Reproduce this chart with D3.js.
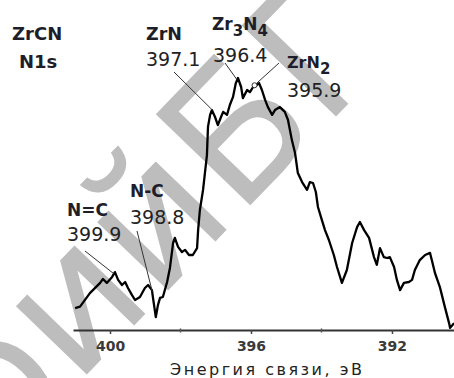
<!DOCTYPE html>
<html>
<head>
<meta charset="utf-8">
<script src="https://cdn.jsdelivr.net/npm/d3@7"></script>
<style>
  html, body { margin: 0; padding: 0; background: #fff; }
  svg { display: block; }
</style>
</head>
<body>
<svg id="chart" width="454" height="378"></svg>
<script>
// N1s XPS spectrum of ZrCN: binding energy (eV) and intensity (arb. units)
const energy = [
  400.99, 400.85, 400.57, 400.28, 400.20, 400.09, 399.94, 399.86, 399.77, 399.66,
  399.57, 399.49, 399.38, 399.29, 399.15, 399.01, 398.92, 398.81, 398.78, 398.70,
  398.64, 398.58, 398.50, 398.38, 398.30, 398.21, 398.16, 398.07, 397.96, 397.87,
  397.76, 397.65, 397.53, 397.50, 397.45, 397.36, 397.25, 397.22, 397.16, 397.11,
  397.02, 396.94, 396.85, 396.79, 396.68, 396.60, 396.51, 396.43, 396.37, 396.28,
  396.23, 396.11, 396.03, 395.94, 395.83, 395.77, 395.69, 395.60, 395.52, 395.40,
  395.32, 395.18, 395.04, 394.95, 394.84, 394.75, 394.67, 394.55, 394.41, 394.33,
  394.24, 394.16, 394.10, 393.99, 393.90, 393.79, 393.65, 393.56, 393.42, 393.28,
  393.13, 392.99, 392.91, 392.79, 392.65, 392.51, 392.43, 392.34, 392.23, 392.14,
  392.06, 391.94, 391.86, 391.77, 391.66, 391.52, 391.43, 391.35, 391.21, 391.06,
  390.92, 390.87, 390.78, 390.64, 390.50, 390.38, 390.35, 390.24
];
const intensity = [
   7.3,  7.8, 12.3, 15.7, 17.0, 15.7, 17.7, 19.3, 16.7, 15.0,
  16.0, 14.0, 11.7, 10.0, 11.0, 14.0, 15.0, 13.3, 10.7,  4.3,
   8.3, 10.7, 11.0, 16.0, 20.7, 29.0, 30.7, 27.7, 26.0, 26.7,
  25.0, 25.0, 27.3, 33.3, 40.0, 46.7, 58.3, 67.7, 71.7, 73.3,
  71.0, 68.3, 71.0, 72.7, 71.7, 75.0, 77.7, 82.3, 84.0, 81.0,
  77.3, 80.0, 79.3, 81.0, 81.7, 82.3, 80.0, 76.7, 74.3, 71.7,
  73.3, 74.3, 72.7, 70.0, 63.3, 59.0, 52.3, 49.3, 46.7, 49.3,
  49.0, 46.0, 41.0, 36.7, 33.3, 30.0, 25.0, 21.0, 15.7, 20.0,
  29.0, 34.3, 36.0, 33.3, 30.7, 24.3, 21.7, 27.3, 24.3, 24.0,
  24.3, 21.0, 16.7, 13.3, 15.7, 16.0, 16.7, 20.0, 23.3, 25.0,
  25.7, 23.3, 19.0, 14.3,  7.7,  2.3,  0.7,  2.3
];

// Axis ticks
const majorTicks = [400, 396, 392];
const minorTicks = [398, 394];

// Component assignments (name parts: [text, isSubscript]) and their energies
const peakNames = [
  [["N=C", false]],
  [["N-C", false]],
  [["ZrN", false]],
  [["Zr", false], ["3", true], ["N", false], ["4", true]],
  [["ZrN", false], ["2", true]]
];
const peakEnergy = [399.9, 398.8, 397.1, 396.4, 395.9];

const svg = d3.select("#chart");

const x = d3.scaleLinear().domain([401.05, 390.24]).range([73, 454]);
const y = d3.scaleLinear().domain([0, 100]).range([330, 30]);

// Repository watermark behind the plot
const wm = svg.append("g")
  .attr("transform", "translate(238,218) rotate(-46)")
  .attr("fill", "#bdbdbd")
  .style("font-family", "'DejaVu Sans', sans-serif")
  .style("font-size", "180px");
wm.append("text").attr("text-anchor", "end").text("Репозиторий ");
wm.append("text").attr("text-anchor", "start").text("БГ");

// Spectrum
const pts = energy.map((e, i) => [e, intensity[i]]);
svg.append("path")
  .datum(pts)
  .attr("fill", "none")
  .attr("stroke", "#000")
  .attr("stroke-width", 2.3)
  .attr("stroke-linejoin", "round")
  .attr("d", d3.line().x(d => x(d[0])).y(d => y(d[1])));

// Axis
const axis = svg.append("g").attr("transform", `translate(0,${y(0)})`);
axis.call(d3.axisBottom(x).tickValues(majorTicks).tickSize(4).tickSizeOuter(0).tickFormat(d3.format("d")));
axis.select(".domain").attr("stroke", "#333").attr("stroke-width", 1.8);
axis.selectAll(".tick line").attr("stroke", "#444").attr("stroke-width", 1.5);
axis.selectAll(".tick text")
  .attr("y", 11)
  .attr("fill", "#3a3a3a")
  .style("font-family", "'DejaVu Sans', sans-serif")
  .style("font-weight", "bold")
  .style("font-size", "14px");
axis.selectAll(".minor")
  .data(minorTicks).enter().append("line")
  .attr("x1", d => x(d)).attr("x2", d => x(d))
  .attr("y1", -1.5).attr("y2", 2.5)
  .attr("stroke", "#555").attr("stroke-width", 1.5);

svg.append("text")
  .attr("x", 266).attr("y", 375)
  .attr("text-anchor", "middle")
  .attr("fill", "#222")
  .attr("textLength", 192)
  .attr("lengthAdjust", "spacing")
  .style("font-family", "'DejaVu Sans', sans-serif")
  .style("font-size", "16px")
  .text("Энергия связи, эВ");

// Sample / line title
const title = svg.append("g")
  .attr("fill", "#1e1e2a")
  .style("font-family", "'DejaVu Sans', sans-serif")
  .style("font-weight", "bold")
  .style("font-size", "18px");
title.append("text").attr("x", 12).attr("y", 40).text("ZrCN");
title.append("text").attr("x", 19).attr("y", 68).text("N1s");

// Intensity on the curve at a given energy
function curveAt(e) {
  for (let i = 0; i < energy.length - 1; i++) {
    const a = energy[i], b = energy[i + 1];
    if ((a - e) * (b - e) <= 0) {
      const t = (e - a) / (b - a);
      return intensity[i] + t * (intensity[i + 1] - intensity[i]);
    }
  }
  return 0;
}

// Label layout: name position, value position, leader start, name size
const labelLayout = [
  { nx: 67,  ny: 216, vx: 67,  vy: 241, lx: 85,  ly: 251, fs: 17 },
  { nx: 130, ny: 197, vx: 130, vy: 224, lx: 137, ly: 231, fs: 17 },
  { nx: 146, ny: 40,  vx: 146, vy: 66,  lx: 174, ly: 72,  fs: 17.5 },
  { nx: 212, ny: 30,  vx: 213, vy: 62,  lx: 225, ly: 63,  fs: 17 },
  { nx: 287, ny: 68,  vx: 287, vy: 97,  lx: 279, ly: 63,  fs: 16 }
];

const labels = svg.append("g");
peakEnergy.forEach((e, i) => {
  const L = labelLayout[i];
  const ex = x(e), ey = y(curveAt(e)) - 1;
  labels.append("line")
    .attr("x1", L.lx).attr("y1", L.ly).attr("x2", ex).attr("y2", ey)
    .attr("stroke", "#333").attr("stroke-width", 1);
  if (i === 4) {
    labels.append("circle").attr("cx", ex).attr("cy", ey).attr("r", 2.5)
      .attr("fill", "#fff").attr("stroke", "#333").attr("stroke-width", 1);
  }
  const t = labels.append("text")
    .attr("x", L.nx).attr("y", L.ny)
    .attr("fill", "#1e1e2a")
    .style("font-family", "'DejaVu Sans', sans-serif")
    .style("font-weight", "bold")
    .style("font-size", L.fs + "px");
  let sub = false;
  peakNames[i].forEach(([s, isSub]) => {
    const ts = t.append("tspan").text(s);
    if (isSub && !sub) { ts.attr("dy", 6).style("font-size", "15px"); sub = true; }
    else if (!isSub && sub) { ts.attr("dy", -6); sub = false; }
    else if (isSub) ts.style("font-size", "15px");
  });
  labels.append("text")
    .attr("x", L.vx).attr("y", L.vy)
    .attr("fill", "#222")
    .style("font-family", "'DejaVu Sans', sans-serif")
    .style("font-size", "19px")
    .text(e.toFixed(1));
});
</script>
</body>
</html>
